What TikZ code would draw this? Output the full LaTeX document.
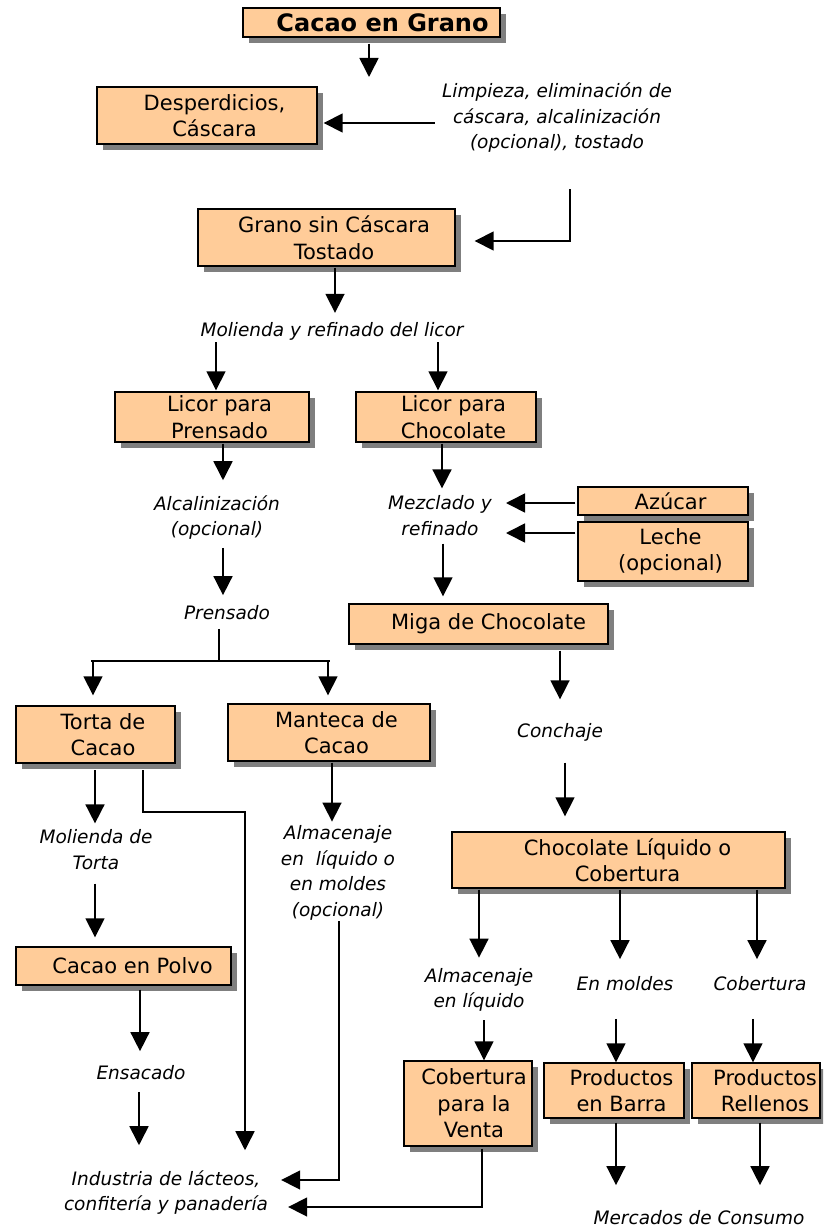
\documentclass[tikz,border=0pt]{standalone}
\usepackage{fontspec}
\setmainfont{DejaVu Sans}
\usetikzlibrary{arrows.meta,calc,shadows}

\definecolor{durazno}{HTML}{FFCC99}
\definecolor{sombra}{HTML}{7F7F7F}
\newcommand\sangria{\hspace*{15pt}}

\begin{document}
\begin{tikzpicture}[x=1pt,y=-1pt,
  caja/.style={draw=black,line width=1.4pt,fill=durazno,inner sep=0pt,align=center,
    font=\fontsize{21}{26.5}\selectfont,
    drop shadow={shadow xshift=6pt,shadow yshift=-6pt,fill=sombra,opacity=1}},
  paso/.style={inner sep=0pt,align=center,font=\fontsize{18.5}{25.5}\selectfont\itshape},
  flecha/.style={line width=1.6pt,-{Triangle[width=19pt,length=19pt]}},
  linea/.style={line width=1.6pt}]

\useasboundingbox (0,0) rectangle (823,1228);
\clip (0,0) rectangle (823,1228);

%Cajas
\node[caja,minimum width=257pt,minimum height=29pt,font=\fontsize{24}{28}\selectfont\bfseries] (cacao) at (371.5,22.5) {\hspace*{22pt}Cacao en Grano};
\node[caja,minimum width=220pt,minimum height=57pt] (desp) at (207,115.5) {\sangria Desperdicios,\\\sangria Cáscara};
\node[caja,minimum width=257pt,minimum height=57pt] (grano) at (326.5,237.5) {\sangria Grano sin Cáscara\\\sangria Tostado};
\node[caja,minimum width=194pt,minimum height=50pt] (licp) at (212,417) {\sangria Licor para\\\sangria Prensado};
\node[caja,minimum width=180pt,minimum height=50pt] (licc) at (446,417) {\sangria Licor para\\\sangria Chocolate};
\node[caja,minimum width=170pt,minimum height=28pt] (azucar) at (663,501) {\sangria Azúcar};
\node[caja,minimum width=170pt,minimum height=59pt] (leche) at (663,551.5) {\sangria Leche\\\sangria (opcional)};
\node[caja,minimum width=259pt,minimum height=40pt] (miga) at (478.5,624) {\hspace*{20pt}Miga de Chocolate};
\node[caja,minimum width=159pt,minimum height=57pt] (torta) at (95.5,734.5) {\sangria Torta de\\\sangria Cacao};
\node[caja,minimum width=202pt,minimum height=57pt] (manteca) at (329,732.5) {\sangria Manteca de\\\sangria Cacao};
\node[caja,minimum width=333pt,minimum height=56pt] (liquido) at (618.5,860) {\hspace*{18pt}Chocolate Líquido o\\\hspace*{18pt}Cobertura};
\node[caja,minimum width=215pt,minimum height=38pt] (polvo) at (123.5,966) {\hspace*{18pt}Cacao en Polvo};
\node[caja,minimum width=128pt,minimum height=85pt] (venta) at (468,1103.5) {\hspace*{12pt}Cobertura\\\hspace*{12pt}para la\\\hspace*{12pt}Venta};
\node[caja,minimum width=140pt,minimum height=55pt] (barra) at (614,1090.5) {\sangria Productos\\\sangria en Barra};
\node[caja,minimum width=128pt,minimum height=55pt] (rellenos) at (756,1090.5) {\hspace*{18pt}Productos\\\hspace*{18pt}Rellenos};

%Pasos
\node[paso] (limp) at (557,118) {Limpieza, eliminación de\\cáscara, alcalinización\\(opcional), tostado};
\node[paso] (moli) at (332,331) {Molienda y refinado del licor};
\node[paso] (alca) at (217,517.5) {Alcalinización\\(opcional)};
\node[paso] (mezc) at (440,515.5) {Mezclado y\\refinado};
\node[paso] (prens) at (227,613) {Prensado};
\node[paso] (conch) at (560,732) {Conchaje};
\node[paso] (molt) at (96,849.5) {Molienda de\\Torta};
\node[paso] (almm) at (338,873) {Almacenaje\\en\ \ líquido o\\en moldes\\(opcional)};
\node[paso] (almv) at (479,990) {Almacenaje\\en líquido};
\node[paso] (moldes) at (625,984) {En moldes};
\node[paso] (cobert) at (760,984) {Cobertura};
\node[paso] (ensac) at (141,1073) {Ensacado};
\node[paso] (indus) at (166,1192.5) {Industria de lácteos,\\confitería y panadería};
\node[paso] (merc) at (699,1218) {Mercados de Consumo};

%Puntos libres
\coordinate (k1) at (369,77);
\coordinate (k3) at (570,189);
\coordinate (bif) at (219,661);
\coordinate (k17) at (245,812);

%Flechas parte superior
\draw[flecha,shorten <=6pt] (cacao.south -| k1) -- (k1);
\draw[flecha] ($(limp.west)+(-7,5)$) -- ($(desp.east)+(6,7.5)$);
\draw[flecha] (k3) |- ($(grano.east)+(19,3.5)$);
\draw[flecha] ($(grano.south)+(8.5,1)$) -- ($(moli.north)+(3,-9)$);
\draw[flecha] ($(moli.south -| licp.north)+(4,2)$) -- ($(licp.north)+(4,-1)$);
\draw[flecha] ($(moli.south -| licc.north)+(-8,2)$) -- ($(licc.north)+(-8,-1)$);

%Licores
\draw[flecha] ($(licp.south)+(11,1)$) -- ($(alca.north)+(6,-15)$);
\draw[flecha] ($(licc.south)+(-4,1)$) -- ($(mezc.north)+(2,-7)$);
\draw[flecha] ($(azucar.west)+(-2,2)$) -- ($(azucar.west -| mezc.east)+(14,2)$);
\draw[flecha] ($(leche.west)+(-2,-18.5)$) -- ($(leche.west -| mezc.east)+(14,-18.5)$);
\draw[flecha] ($(alca.south)+(6,8)$) -- ($(prens.north)+(-4,-10.5)$);
\draw[flecha] ($(mezc.south)+(3,8)$) -- ($(miga.north)+(-35.5,-7)$);

%Prensado
\draw[linea] ($(prens.south)+(-8,8.5)$) -- (bif);
\draw[linea] ($(bif -| torta.north)+(-4.5,0)$) -- ($(bif -| manteca.north)+(1,0)$);
\draw[flecha] ($(bif -| torta.north)+(-2.5,0)$) -- ($(torta.north)+(-2.5,-10)$);
\draw[flecha] ($(bif -| manteca.north)+(-1,0)$) -- ($(manteca.north)+(-1,-8)$);

%Chocolate
\draw[flecha] ($(miga.south)+(81.5,6)$) -- ($(conch.north)+(0,-23.5)$);
\draw[flecha] ($(conch.south)+(5,21.5)$) -- ($(liquido.north)+(-53.5,-15)$);
\draw[flecha] ($(liquido.south -| almv.north)+(0,1)$) -- ($(almv.north)+(0,-10.5)$);
\draw[flecha] ($(liquido.south -| moldes.north)+(-5,1)$) -- ($(moldes.north)+(-5,-17.5)$);
\draw[flecha] ($(liquido.south -| cobert.north)+(-3,1)$) -- ($(cobert.north)+(-3,-17.5)$);
\draw[flecha] ($(almv.south)+(5,8.5)$) -- ($(venta.north)+(16,0)$);
\draw[flecha] ($(moldes.south)+(-9,27.5)$) -- ($(barra.north)+(2,0)$);
\draw[flecha] ($(cobert.south)+(-7,27.5)$) -- ($(rellenos.north)+(-3,0)$);
\draw[flecha] ($(barra.south)+(2,4)$) -- ($(barra.south |- merc.north)+(2,-25.5)$);
\draw[flecha] ($(rellenos.south)+(4,4)$) -- ($(rellenos.south |- merc.north)+(4,-25.5)$);

%Torta y manteca
\draw[flecha] ($(torta.south)+(-0.5,6.5)$) -- ($(molt.north)+(-1,-6)$);
\draw[flecha] ($(torta.south)+(47.5,6.5)$) |- (k17) -- ($(k17 |- indus.north)+(0,-20)$);
\draw[flecha] ($(manteca.south)+(3,1)$) -- ($(almm.north)+(-6,-4)$);
\draw[flecha] ($(molt.south)+(-1,14)$) -- ($(polvo.north)+(-28.5,-9)$);
\draw[flecha] ($(polvo.south)+(16.5,4)$) -- ($(ensac.north)+(-1,-14.5)$);
\draw[flecha] ($(ensac.south)+(-2,11.5)$) -- ($(ensac.south |- indus.north)+(-2,-25)$);
\draw[flecha] ($(almm.south)+(1,1)$) |- ($(indus.east)+(13,-12.5)$);
\draw[flecha] ($(venta.south)+(14,2)$) |- ($(indus.east)+(20,14.5)$);

\end{tikzpicture}
\end{document}
